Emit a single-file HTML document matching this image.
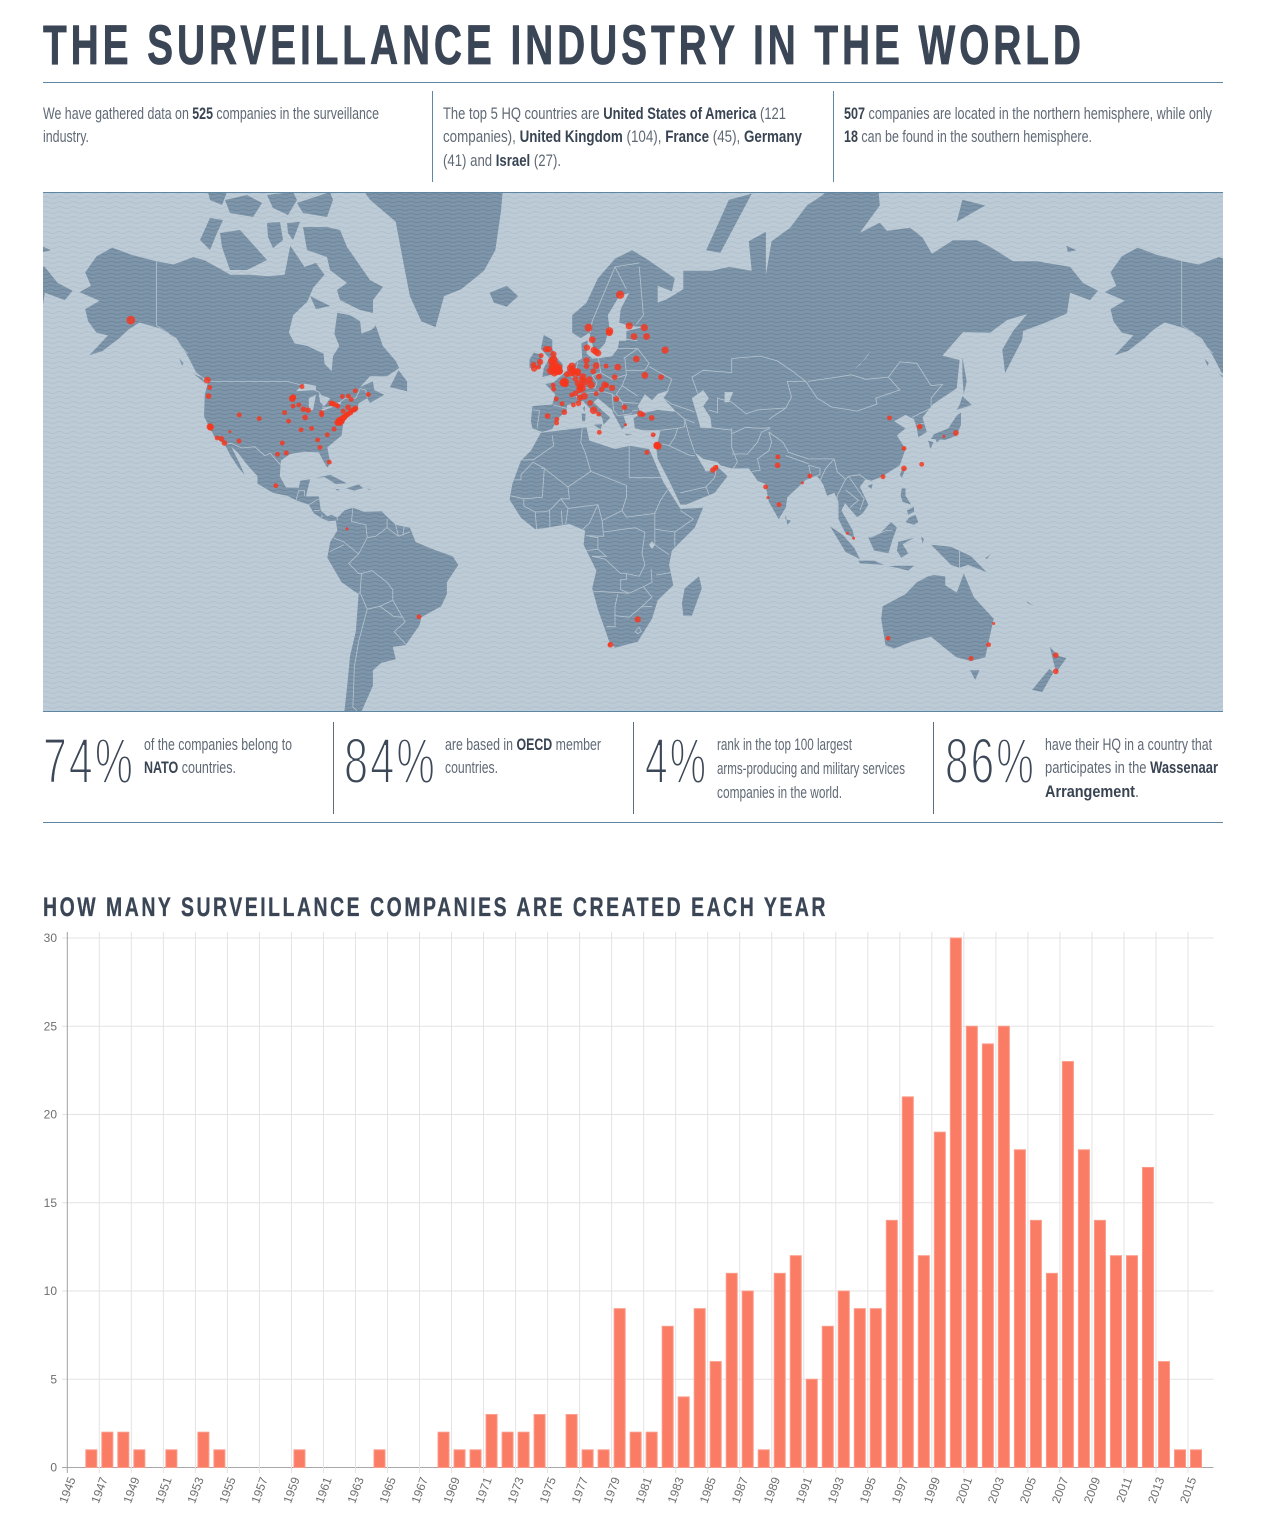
<!DOCTYPE html>
<html lang="en">
<head>
<meta charset="utf-8">
<title>The Surveillance Industry in the World</title>
<style>
html,body{margin:0;padding:0;background:#fff;}
body{width:1265px;height:1528px;position:relative;overflow:hidden;font-family:"Liberation Sans",Arial,sans-serif;color:#525d6c;}
.rule,.vr{position:absolute;background:#5f86a3;}
.ln{position:absolute;white-space:nowrap;font-size:16.5px;line-height:20px;transform-origin:0 50%;color:#5f6975;}
.ln b{color:#394453;font-weight:700;}
.big{position:absolute;white-space:nowrap;font-size:64px;line-height:70px;top:726px;color:#3c4757;transform-origin:0 50%;letter-spacing:.05em;-webkit-text-stroke:1.9px #fff;}
h1,h2{position:absolute;margin:0;white-space:nowrap;color:#3a4555;font-weight:700;transform-origin:0 50%;}
h1{left:43px;top:15px;font-size:56px;line-height:60px;letter-spacing:.1em;-webkit-text-stroke:.7px #3a4555;}
h2{left:43px;top:892px;font-size:26.5px;line-height:30px;letter-spacing:.13em;-webkit-text-stroke:.3px #3a4555;}
svg{position:absolute;display:block;}
</style>
</head>
<body>
<h1 data-fit="1042">THE SURVEILLANCE INDUSTRY IN THE WORLD</h1>
<div class="rule" style="left:43px;top:82px;width:1180px;height:1px"></div>

<div class="ln" data-fit="336" style="left:43px;top:104px">We have gathered data on <b>525</b> companies in the surveillance</div>
<div class="ln" data-fit="46" style="left:43px;top:127px">industry.</div>
<div class="vr" style="left:432px;top:91px;width:1px;height:91px"></div>
<div class="ln" data-fit="343" style="left:443px;top:104px">The top 5 HQ countries are <b>United States of America</b> (121</div>
<div class="ln" data-fit="359" style="left:443px;top:127px">companies), <b>United Kingdom</b> (104), <b>France</b> (45), <b>Germany</b></div>
<div class="ln" data-fit="118" style="left:443px;top:151px">(41) and <b>Israel</b> (27).</div>
<div class="vr" style="left:833px;top:91px;width:1px;height:91px"></div>
<div class="ln" data-fit="368" style="left:844px;top:104px"><b>507</b> companies are located in the northern hemisphere, while only</div>
<div class="ln" data-fit="248" style="left:844px;top:127px"><b>18</b> can be found in the southern hemisphere.</div>

<svg id="map" style="left:43px;top:192px" width="1180" height="520" viewBox="43 192 1180 520" xmlns="http://www.w3.org/2000/svg">
  <defs>
    <pattern id="seaWave" width="14" height="5" patternUnits="userSpaceOnUse">
      <rect width="14" height="5" fill="#bdcbd6"/>
      <path d="M0 2.5 Q3.5 0.5 7 2.5 T14 2.5" fill="none" stroke="#b2c1cd" stroke-width="1"/>
    </pattern>
    <pattern id="landWave" width="12" height="4" patternUnits="userSpaceOnUse">
      <rect width="12" height="4" fill="#7f96aa"/>
      <path d="M0 2 Q3 0.4 6 2 T12 2" fill="none" stroke="#6f879c" stroke-width="1"/>
    </pattern>
  </defs>
  <rect x="43" y="192" width="1180" height="520" fill="url(#seaWave)"/>
  <g id="landLayer"></g>
  <g id="waterLayer"></g>
  <g id="borderLayer"></g>
  <g id="dotLayer"></g>
</svg>
<div class="rule" style="left:43px;top:192px;width:1180px;height:1px"></div>
<div class="rule" style="left:43px;top:711px;width:1180px;height:1px"></div>

<div class="big" data-fit="92" style="left:43px">74%</div>
<div class="ln" data-fit="148" style="left:144px;top:735px">of the companies belong to</div>
<div class="ln" data-fit="92" style="left:144px;top:758px"><b>NATO</b> countries.</div>
<div class="vr" style="left:333px;top:722px;width:1px;height:92px;background:#5d6d7c"></div>
<div class="big" data-fit="93" style="left:344px">84%</div>
<div class="ln" data-fit="156" style="left:445px;top:735px">are based in <b>OECD</b> member</div>
<div class="ln" data-fit="53" style="left:445px;top:758px">countries.</div>
<div class="vr" style="left:633px;top:722px;width:1px;height:92px;background:#5d6d7c"></div>
<div class="big" data-fit="63" style="left:645px">4%</div>
<div class="ln" data-fit="135" style="left:717px;top:735px">rank in the top 100 largest</div>
<div class="ln" data-fit="188" style="left:717px;top:759px">arms-producing and military services</div>
<div class="ln" data-fit="125" style="left:717px;top:783px">companies in the world.</div>
<div class="vr" style="left:933px;top:722px;width:1px;height:92px;background:#5d6d7c"></div>
<div class="big" data-fit="91" style="left:945px">86%</div>
<div class="ln" data-fit="167" style="left:1045px;top:735px">have their HQ in a country that</div>
<div class="ln" data-fit="173" style="left:1045px;top:758px">participates in the <b>Wassenaar</b></div>
<div class="ln" data-fit="94" style="left:1045px;top:782px"><b>Arrangement</b>.</div>
<div class="rule" style="left:43px;top:822px;width:1180px;height:1px"></div>

<h2 data-fit="785">HOW MANY SURVEILLANCE COMPANIES ARE CREATED EACH YEAR</h2>
<svg id="chart" style="left:0;top:925px" width="1265" height="603" viewBox="0 925 1265 603" xmlns="http://www.w3.org/2000/svg"></svg>

<script>
/* ---------- bar chart data ---------- */
const years = [1945,1946,1947,1948,1949,1950,1951,1952,1953,1954,1955,1956,1957,1958,1959,1960,1961,1962,1963,1964,1965,1966,1967,1968,1969,1970,1971,1972,1973,1974,1975,1976,1977,1978,1979,1980,1981,1982,1983,1984,1985,1986,1987,1988,1989,1990,1991,1992,1993,1994,1995,1996,1997,1998,1999,2000,2001,2002,2003,2004,2005,2006,2007,2008,2009,2010,2011,2012,2013,2014,2015];
const companiesCreated = [0,1,2,2,1,0,1,0,2,1,0,0,0,0,1,0,0,0,0,1,0,0,0,2,1,1,3,2,2,3,0,3,1,1,9,2,2,8,4,9,6,11,10,1,11,12,5,8,10,9,9,14,21,12,19,30,25,24,25,18,14,11,23,18,14,12,12,17,6,1,1];
const yTicks = [0,5,10,15,20,25,30];

/* ---------- map data: longitude / latitude ---------- */
const landPolygons = [
 [[-168,65.6],[-164,66.5],[-166,68.3],[-162,70.3],[-156.5,71.3],[-150,70.5],[-141,69.7],[-135,69.3],[-128,70.2],[-124,69.8],[-115,68],[-108,68],[-102,67.8],[-96,68],[-94,71.5],[-89,69],[-85,69.5],[-82,68],[-86,66.2],[-88,64.2],[-93,62],[-94.5,59],[-92.5,57],[-88,56.5],[-82.3,55],[-82,52.9],[-79.5,51.3],[-79,54.5],[-76.8,56.5],[-78.5,58.8],[-77.5,62.4],[-73,62],[-69.5,61],[-69,58.8],[-65.5,59.5],[-64,60.3],[-61.5,56.5],[-57,53.5],[-55.8,52],[-60,50.2],[-66,50.2],[-69.5,47.7],[-65,49],[-64.5,47],[-61,45.8],[-66,43.8],[-67,45],[-70,43.7],[-70.5,41.7],[-74,40.5],[-75.5,38],[-76,35],[-81,31.5],[-80,26.8],[-81,25.2],[-82.8,28],[-84,30],[-89,30.2],[-94,29.5],[-97.3,27.5],[-97.7,22.5],[-95.5,18.8],[-91,18.7],[-90.5,21],[-87,21.5],[-88,18],[-88.5,15.8],[-84,15.8],[-83.3,11],[-81,9],[-79.5,9.5],[-77.5,8.5],[-78,7.5],[-80.5,7.3],[-83,8.3],[-85.7,10],[-87.5,13],[-92,14.5],[-95,16],[-100,17],[-105.5,20],[-105.5,22.5],[-109,26],[-112.5,30],[-114.7,31.7],[-112,27],[-110,23],[-112,25],[-115,29],[-117.1,32.5],[-120.5,34.5],[-122.5,37.5],[-124.3,40.3],[-124,46],[-122.8,49],[-127,51],[-130,54.5],[-134,58],[-140,59.8],[-147,60.8],[-151,59.5],[-154,58],[-160,55.5],[-164.5,54.7],[-158,58.5],[-162,59],[-165,61],[-166,63],[-161,64.3]],
 [[-73,78.2],[-68,80.5],[-60,82],[-40,83.5],[-22,82.5],[-18,80],[-20,75],[-22,71],[-26,68.5],[-34,66],[-40,65],[-43,60],[-48,61],[-52,65],[-54,69],[-57,74],[-66,76]],
 [[-87,65],[-80,63.5],[-85,63]],
 [[-59,47.7],[-53,46.7],[-53,49],[-56,51.5]],
 [[-128,50.7],[-123.5,48.4],[-125,49.9]],
 [[-133,54],[-131.5,53],[-132,52.5]],
 [[-85,22],[-80,23],[-74.2,20.2],[-78,19.9],[-82,22.2]],
 [[-74.4,18.5],[-70,19.8],[-68.4,18.6],[-71.5,17.8]],
 [[-78.3,18.4],[-76.3,18],[-77.5,17.8]],
 [[-67.2,18.4],[-65.7,18.3],[-66.2,18]],
 [[-77.5,8.5],[-75,11],[-72,12],[-68,10.5],[-62,10.7],[-57,6],[-52,5],[-50,0],[-44,-2.5],[-37,-5],[-35,-8],[-39,-14],[-39,-18],[-41,-22],[-48,-25.5],[-48.6,-28],[-53.5,-34],[-58,-34.5],[-57,-38],[-62,-39],[-65,-41],[-65,-45],[-69,-51],[-69,-55],[-75,-55],[-75,-51],[-74,-45],[-73,-37],[-71,-30],[-70,-18],[-76,-14],[-81,-5.5],[-80,0],[-77.5,4],[-78,7.5]],
 [[-6,35.8],[10,37.3],[11,33.5],[20,31],[25,32],[32,31],[33.5,28],[37,20.5],[43,11.5],[51,12],[48,5],[40,-3],[39,-8],[40.5,-15],[35,-20],[33,-26],[28,-33],[20,-34.8],[18,-33],[14,-23],[12,-16],[13.5,-10],[9,-1],[9.5,4],[4,6.3],[-4,5],[-8,4.5],[-13,8.5],[-17,14.7],[-16,20],[-13,27.5],[-9.5,30.5]],
 [[49.5,-12],[50.5,-16],[47,-25],[44,-25],[43.5,-21],[44.5,-16]],
 [[-9,37],[-9.5,39],[-9,43],[-2,43.4],[-1,46],[-4.5,48.4],[-1.5,48.8],[1.5,50.5],[4,52],[7,53.5],[8.5,54],[8.2,57],[10.5,57.6],[10,55],[12,54],[14,54],[19,54.5],[21,56],[21.5,57.5],[24,57.5],[24,59.3],[30,60],[25,60.2],[21.5,60.8],[22,63],[25,65.5],[21.5,65],[17.5,62],[18,60],[16.5,57],[14,55.5],[12.5,56],[11,59],[8,58],[5,59],[5,62],[10,64],[14,67.5],[20,70],[26,71],[31,70],[41,67.5],[40,65.7],[35,66.5],[35,64],[38,64.5],[44,66],[44,68.5],[54,68.5],[60,69],[68,68.5],[67,72],[73,73],[73,68],[75,72],[81.5,73.4],[87.4,75.5],[93,76.4],[100,78],[112,78],[113,75.5],[106,72.9],[113,73.9],[115.5,73.1],[123.6,73.4],[128,72.4],[131.3,70.6],[138.7,72.1],[147,72.1],[151.7,71.4],[159.8,69.7],[168,69.7],[179.8,69],[184.3,66.9],[189.6,65.8],[186.8,64.4],[179.8,65.5],[178.7,62.3],[170.3,60.6],[163.3,59.3],[163,57.7],[157,50.9],[156,55.8],[159.8,59.3],[164.7,62.2],[157.7,61.2],[151.7,59],[142.2,59.1],[135,54.6],[141,53.7],[140,47.4],[131.7,43.5],[128,40],[129.5,36],[126.5,34.5],[126,37],[125,39.5],[122,40.7],[118,39],[122,37],[119,35],[122,31],[120,26],[114,22.5],[110,21],[108,21.5],[106,19],[109,13],[107,10],[105,8.7],[103,11],[100.8,13.5],[99.5,11],[103.5,4],[104,1.3],[101,3],[98.5,8],[98.5,14],[97,17],[94.5,16],[93,20],[91,22.5],[87,21.3],[80.5,15.5],[80,12],[77.5,8],[74,14],[72.8,20],[70,21],[69,22.5],[67,25],[61,25],[57,26],[56,27],[51,28],[48,30],[51,25.5],[52,24],[56,25.5],[59.5,22.5],[55,17],[45,13],[43,13],[39,21],[35,28],[34.5,31.3],[36,36.5],[30,36.5],[27,37],[26.5,39.8],[29,41],[35,42],[41.5,41.5],[37,45],[39,47],[35,46],[33,44.5],[30.5,46],[28,43],[29,41.2],[26,40.7],[23,40.5],[24,38],[22.5,36.7],[19.5,41],[19,42],[14,45],[12.5,44],[16,41.5],[18.4,40],[16,38],[15.5,40],[11,42.5],[8.8,44.3],[3.2,43.2],[3,41.8],[-0.3,39.5],[-2,36.8],[-5.5,36]],
 [[-5.5,50],[1.5,51.2],[1.7,52.8],[-1,54.5],[-2,56],[-2,57.7],[-5,58.6],[-6,56],[-3,54],[-5,52]],
 [[-10,52],[-6,52],[-5.7,54.8],[-8.5,55.2],[-10,53.8]],
 [[-24,65.5],[-18,66.5],[-14,65],[-18,63.4],[-22.5,64]],
 [[52,71],[57,70.7],[68,76.5],[60,76],[55,73]],
 [[12.5,38],[15.5,38.2],[15,36.7]],
 [[8.3,41],[9.7,41],[9.5,39],[8.5,39]],
 [[8.7,42.5],[9.5,43],[9.3,41.5]],
 [[23.5,35.5],[26.3,35.2],[24,35]],
 [[32.5,35],[34.5,35.6],[33.8,34.7]],
 [[131,34],[136,33.7],[140,35],[141.5,38],[141.5,41.3],[140,40.5],[137,37],[132,35.3]],
 [[130,33.5],[131.8,33],[130.8,31]],
 [[132.5,34],[134.5,34],[133,33]],
 [[140,42],[145.3,43.3],[142,45.5],[141,43.3]],
 [[142,54.3],[143.5,49],[142.5,46],[142,50]],
 [[120,23],[121,25],[122,25],[120.8,22]],
 [[108.7,19.3],[110.5,20],[110,18.3]],
 [[79.8,8],[81.8,7.5],[80.5,6],[80,9.5]],
 [[120.3,16],[120.7,18.5],[122,18.5],[122,16],[124,13],[121,14]],
 [[122,7],[123.5,8.7],[125.5,9.5],[126.5,7],[125,6]],
 [[122.5,11],[125,12.3],[125,10.5],[123,9.5]],
 [[109,1.5],[113,3],[117,7],[119,5],[117.5,1],[116,-4],[111,-3]],
 [[95.5,5.5],[100,2.5],[104,-2],[106,-6],[101,-3.5]],
 [[105.5,-6.5],[111,-6.5],[114.5,-8],[106,-7.5]],
 [[119.5,0],[125,1.5],[121,-0.8],[123,-4],[120.5,-5.5],[119,-3]],
 [[116,-8.5],[119,-8.3],[125,-8.3],[123,-10],[119,-9]],
 [[127.5,2],[128.5,1],[128,-0.5]],
 [[131,-1],[138,-1.7],[145,-5],[150.5,-10.5],[144,-8],[141,-9],[138,-8],[134,-4]],
 [[150,-5.7],[152,-4.3],[150.5,-6]],
 [[114,-22],[122,-18],[126,-14],[130,-12],[132,-11.5],[136,-12],[136,-15],[140,-17.5],[142.5,-11],[146,-19],[153,-26],[150,-37.5],[145,-38.5],[140,-37.5],[136,-35],[131,-31.5],[124,-33],[118,-35],[115,-34],[113.5,-26]],
 [[144.7,-41],[148,-41],[146.5,-43.5]],
 [[172.7,-34.5],[175.5,-37],[178.5,-37.7],[175,-41.5],[174,-39]],
 [[172.5,-40.7],[174,-41.5],[170,-46.5],[166.5,-46],[171,-42]],
 [[142,76],[150,75.5],[140,74]],
 [[178.5,71.5],[182,71],[179,70.8]],
 [[165,-21],[167,-22],[164.5,-20.3]]
];
/* Canadian Arctic islands, traced directly in map pixels */
const arcticIslands = [
 [[200,240],[210,218],[223,220],[217,233],[210,250]],
 [[220,233],[240,230],[267,260],[247,270],[230,270],[222,247]],
 [[208,192],[227,192],[222,205],[210,200]],
 [[225,200],[247,195],[262,203],[253,217],[230,213]],
 [[267,195],[293,192],[297,200],[288,215],[273,208]],
 [[297,203],[330,192],[333,200],[327,217],[303,213]],
 [[267,223],[280,222],[283,240],[273,248],[268,237]],
 [[287,223],[300,222],[293,240],[288,233]],
 [[303,227],[327,227],[340,230],[347,247],[370,280],[383,287],[373,300],[373,313],[360,310],[340,300],[337,290],[347,283],[330,270],[327,257],[307,250]]
];
const inlandWater = [
 [[47,45],[51,47],[53,45],[51,43],[53.5,40],[54,37],[50,37.2],[49,40]],
 [[58.5,46.5],[61.5,46.5],[60,44],[58.5,44]],
 [[104,51.7],[106,52.7],[110,55.7],[108,54]],
 [[33,0.3],[34,-1],[33,-2.5],[32,-1]],
 [[-92,46.7],[-85,47],[-85,48],[-89,48.5]],
 [[-87.5,41.8],[-86,42],[-85,45.8],[-87.5,45]],
 [[-84,46],[-80,45],[-82,43],[-83.5,44]],
 [[-83,41.7],[-79,42.8],[-79,43],[-83,42.2]],
 [[-79.5,43.3],[-76.3,43.5],[-76.3,44],[-79.5,43.8]]
];
const borderLines = [
 [[-123,49],[-95,49],[-89,48],[-84,46.5],[-82.5,45],[-82.5,42.5],[-79,43],[-76,44.3],[-74.7,45],[-71,45],[-69.5,47.3],[-67.5,47],[-67,45]],
 [[-141,69.7],[-141,60.3],[-137,59],[-130,55]],
 [[-117,32.5],[-114.7,32.7],[-111,31.3],[-106.5,31.7],[-103,29],[-101,29.7],[-97.3,26]],
 [[-92,14.5],[-91,17.8],[-89,17.9],[-89,15.9]],[[-87.5,13],[-84,15]],[[-85.7,11],[-83.7,11]],[[-83,8.5],[-82.8,9.6]],[[-77.5,8.5],[-77.5,7.5]],
 [[-72,12],[-72.5,7.2],[-67.5,6],[-67,1.5]],[[-67,1.5],[-70,-4.2]],[[-78.8,1.4],[-75.2,0],[-70,-4.2]],[[-80.2,-3.4],[-75.2,-1]],
 [[-70,-4.2],[-73.5,-7.5],[-70,-11],[-69,-11],[-65.3,-10],[-60,-14],[-58,-16.5],[-58,-20],[-54.6,-25.5],[-53.7,-27],[-57.5,-30],[-53.5,-33.7]],
 [[-67,1.5],[-64,2],[-60,5],[-56,2],[-52,3.5]],[[-60,8],[-60,5]],[[-57,6],[-56,2]],[[-54,5.5],[-54.5,2.3]],
 [[-69,-11],[-69.5,-17.5],[-70.3,-18.3]],[[-69.5,-17.5],[-67,-23],[-70,-33],[-71.5,-40],[-72,-50],[-69,-52]],
 [[-67,-23],[-62.5,-22],[-58,-20]],[[-62.5,-22],[-57.7,-25.3],[-54.6,-25.5]],
 [[-2,35],[-1.5,32],[-8.7,27.7],[-13,27.7]],[[8.5,37],[8,33],[9.5,30]],[[9.5,30],[11.5,24]],[[25,32],[25,22]],[[25,22],[36.5,22]],
 [[11.5,24],[14.5,23],[24,19.5],[24,15.5],[22.5,11],[24,8.7]],[[11.5,24],[3.5,19],[4,15],[1,15],[3.5,11.7]],
 [[-17,21.3],[-13,21.3],[-13,23],[-8.7,27]],[[-6,25],[-4.8,25],[-5.5,15.5],[-12,15],[-16.5,16]],[[-8.7,27],[-4.8,25],[3.5,19]],
 [[-12,15],[-12,12.5],[-8,10.5],[-5,10.5],[-3,11],[1,15]],[[3.5,11.7],[14,13]],[[3.5,11.7],[2.7,6.3]],[[1.2,11],[1.5,6]],[[-3,11],[-2.8,5]],[[-8,10.5],[-7.5,4.5]],
 [[14,13],[11,6.5],[8.7,4.5]],[[14,13],[15.5,7.5],[22.5,11]],[[15.5,7.5],[16,2],[9.8,2.2]],[[11,2],[14,1.5],[14,-2.5],[10,-3]],
 [[16,3.5],[27,5],[30.5,3.5]],[[24,8.7],[34,10],[36,14.5],[38.5,18]],[[34,10],[34,4.5],[41,3.5],[47.5,8],[43,11]],[[41,3.5],[41,-1.5]],
 [[34,4.5],[34,-1],[39,-4.5]],[[30.5,3.5],[29.5,-4],[30.5,-8],[28.5,-12]],[[34.5,-11.5],[40.5,-10.5]],
 [[12,-5],[16.5,-6],[22,-11],[24,-11],[24,-13],[22,-13],[22,-16.5],[25,-17.7],[12,-17]],[[21,-18],[20,-22],[20,-28.5],[17,-28.5]],
 [[20,-25],[25,-25.5],[29.3,-22.2],[33,-22]],[[25,-17.7],[30,-15.5],[33,-14],[32.7,-9.4]],[[29.3,-22.2],[33,-19],[30,-15.5]],
 [[27,-30],[28.5,-28.7],[29.3,-30],[28,-30.6],[27,-30]],[[14,-2.5],[17,-5],[12,-5]],[[28.5,-12],[24,-11]],
 [[44.5,39.5],[46,35],[48,30]],[[36,36.5],[42,37],[44.5,37.5],[44.5,39.5]],[[42,37],[41,34.5],[39,32],[36.5,32.5]],[[39,32],[46.5,29],[48,29]],
 [[43,17],[52,19],[55,22],[55.5,24.2],[51.5,24.2]],[[52,19],[53,16.5]],[[61,37],[61,31.5],[63,27],[61.5,25]],[[61,29.5],[66.5,29.5],[70,33],[71.5,36],[74.5,37]],
 [[61,35.5],[66,37.3],[71,37],[74.5,37.2]],[[54,37.2],[61,36.5]],
 [[47,50],[51,51.5],[61,51],[61,54],[71,54.5],[77,53.5],[83,51],[87,49]],[[53,42],[56,41.3],[56,45],[61,44],[66,41],[70,42],[80,42.5],[82,45.3],[80.5,49],[87,49]],
 [[87,49],[91,45],[96,42.8],[105,41.7],[112,43.5],[111.5,45],[120,47],[116,50]],[[87.7,49],[98,50],[103,50.5],[108,49.5],[116,50]],
 [[116,50],[120,53.3],[126,53],[131,48],[135,48.3],[131,45],[131,42.8]],[[124.3,40],[131,42.5]],[[126,38],[128.5,38.5]],[[74,39.5],[80,42.5]],
 [[74,36],[79,33],[81,30],[88,28],[92,28],[97,28]],[[97,28],[98,24],[101,21.5],[102,22.5],[106,23],[108,21.5]],
 [[68,24],[71,24.5],[70,28],[74,30.5],[75,33],[74,36]],[[80,29],[88,26.5]],[[88,26],[89,22],[92,23],[92,25],[88,26]],[[92,21],[94,25],[97,28]],
 [[98,16],[101,21.5]],[[98,10.5],[98,16]],[[101,18],[105.5,14.5],[102.5,12]],[[102,22.5],[107.5,15],[106,11]],
 [[-1.7,43.3],[3,42.4]],[[-9,42],[-6.5,41.8],[-7.3,37.2]],[[2.5,51],[6,49.5],[8,49],[7.5,47.5],[6,46],[7.5,44]],[[7,53.3],[6,51],[6,49.5]],
 [[14.2,54],[15,51],[19,49.5],[24,50.5]],[[15,51],[12,50.3],[13.7,48.7],[13,47.5],[7.5,47.5]],[[7,46],[13.7,46.5]],[[13.7,46.5],[16.5,46.5],[19,46],[22.5,44],[28,43.7]],
 [[23.5,54],[24,50.5],[22.5,48],[28,45.5]],[[21,56],[28,56],[23,54]],[[24,57.8],[28,57.5]],[[28,56],[32,53],[30.5,51.5],[24,51.5]],[[32,52.3],[40,49.5],[38.5,47]],
 [[28.5,69],[30,62],[27.5,60.5]],[[20,69],[12,61],[11.3,59]],[[24,66],[20,69],[28.5,69.5]],[[19,46],[19.5,42],[21,40.5],[26,41]],[[22.5,44],[23,41.3]],[[26,41.7],[28,42]],
 [[22.5,48],[20.5,46],[22.5,44]],[[37,45],[40,43.5],[48,41.5]],[[41.5,41.5],[44.5,39.5]],[[48,38.5],[44.5,39.5]],[[47,50],[49,46.2]],
 [[141,-2.6],[141,-9]],[[109.5,1.5],[115,4],[117.5,4.2]]
];
/* [longitude, latitude, companies at the site] */
const hqSites = [
 [-150,61.2,9],[-123.1,49.3,4],[-122.3,47.6,1],[-122.7,45.5,2],[-122.2,37.5,4],[-122,37.3,4],[-118.2,34,2],[-117.1,32.8,2],[-119.7,34.3,1],[-115.2,36.1,0],
 [-111.9,40.7,1],[-104.9,39.7,1],[-112,33.4,1],[-96,41.3,1],[-94.6,39,1],[-96.8,32.8,1],[-95.4,29.8,1],[-98.5,29.4,1],[-99.1,19.4,1],
 [-93.3,44.9,4],[-93,45.2,3],[-89.9,47.8,1],[-87.7,41.9,2],[-89.4,42.2,2],[-91,43.3,1],[-93,43,1],[-88.8,40,2],[-86.5,37,1],[-90.2,36.6,1],
 [-84.4,33.7,1],[-83.6,31.5,1],[-80.3,27,1],[-81,35.2,1],[-78.6,36.8,1],[-83,41.3,1],[-83,40.7,1],
 [-79.6,43.7,2],[-79,43.6,2],[-78,43.3,1],[-77.3,43,1],[-75.5,41.7,1],[-77,38.9,5],[-76.6,39.3,4],[-75.2,40,3],[-74.2,40.7,2],[-73.8,40.9,2],[-75.7,39.7,3],[-77.3,38.6,4],[-71.1,42.4,2],[-73.7,42.7,2],[-75.7,45.4,1],[-73.6,45.5,1],[-71.2,46.8,1],[-72.6,44.7,1],[-72.5,41.8,1],[-66.6,45.9,1],
 [-76,39,3],[-74.8,40.3,2],[-76.5,38.5,2],[-72.9,41.3,2],[-71.6,42.1,2],
 [-0.1,51.5,12],[-0.9,51.5,8],[-1.6,51.7,8],[-0.6,52,7],[0.1,52.2,6],[-1.9,52.5,7],[-1.2,52.9,6],[-2.2,53.5,6],[-1.5,53.8,6],[-1.6,54.9,3],[-2.6,51.4,6],[-1.3,50.9,5],[0.5,51.3,5],
 [-3.2,55.9,3],[-4.2,55.9,3],[-5.9,54.6,1],[-6.3,53.3,3],[-8.4,51.9,3],[-8.6,52.7,2],[-6.9,52.2,1],
 [2.3,48.9,9],[1.9,48.7,7],[2.6,48.4,4],[-1.5,47.2,1],[1.4,43.6,1],[-0.6,44.8,1],[4.8,45.8,1],[5.4,43.3,1],[7.2,43.7,2],[6.1,46.2,2],[3.1,50.6,2],[-1.7,48.1,1],
 [4.9,52.4,5],[4.3,52,4],[5.5,51.4,3],[4.4,50.9,5],[6.1,49.6,2],[6.8,51.2,5],[6.9,50.9,3],[8.7,50.1,4],[8.5,49.4,3],[9.2,48.8,5],[10,53.6,3],[10,52.4,2],[13.4,52.5,4],[11.6,48.2,6],[11,49.4,4],[12.4,51.3,2],
 [8.5,47.4,5],[7.5,47,3],[7.6,47.6,3],[9.2,45.5,5],[7.7,45.1,3],[11.3,43.8,2],[12.5,41.9,6],[14.3,40.9,1],[14.5,35.9,1],[13.4,46.1,1],[16.4,48.2,4],[14.4,50.1,2],[15.3,47.1,2],[19,47.5,3],[21,52.2,4],[19.9,50,2],[16.9,52.4,1],
 [21.8,65.2,8],[18.1,59.3,6],[18,59,4],[10.7,59.9,7],[25,60.2,5],[30.3,59.9,5],[26.7,58.3,4],[31.1,58.3,4],[12.6,55.7,4],[13.3,55.4,4],[14,55.1,4],[12,57.7,4],[10.2,56.2,3],
 [37.6,55.7,5],[27.5,53.9,4],[30.5,50.4,4],[36.2,50,2],[17.1,48.1,1],[20.5,44.8,2],[23.3,42.7,2],[28.9,41,3],[29.8,40.8,1],[32.9,39.9,2],[23.7,38,0],
 [-3.7,40.4,2],[-0.4,39.5,1],[-0.5,38.5,1],[2.2,41.4,2],[5.5,51,5],[7,48.6,3],[8,47.9,4],[33.4,35.2,1],[34.8,32.1,6],[34.9,32,5],[35.2,31.8,4],[31.2,30,1],[55.3,25.2,2],[54.4,24.5,2],[55.7,25.6,0],
 [77.2,28.6,1],[77.1,26,2],[72.9,19,1],[73.7,15.4,0],[77.6,13,1],[88.4,22.6,1],[85.8,20.3,0],[116.4,39.9,1],[127,37.5,2],[139.7,35.7,2],[135.5,34.7,0],[121.5,31.2,1],[121.5,25,2],[127.7,26.3,1],[114.1,22.3,1],
 [103.8,1.3,0],[101.7,3.1,0],[115.9,-32,1],[145,-37.8,1],[151.2,-33.9,1],[153,-27.5,0],[174.8,-36.9,2],[174.8,-41.3,2],[-48.8,-25.4,1],[-74.1,4.6,0],[18.4,-33.9,2],[18,-33.9,0],[28,-26.2,3]
];

/* ---------- map projection (Mercator) ---------- */
const SVGNS = 'http://www.w3.org/2000/svg';
function lonX(lon){return 558 + 2.848*lon;}
function latY(lat){return 542 - 163.2*Math.log(Math.tan(Math.PI/4 + lat*Math.PI/360));}
function ptsOf(line,offset){return line.map(function(p){return lonX(p[0]+offset).toFixed(1)+','+latY(p[1]).toFixed(1);}).join(' ');}
function radiusOf(count){return 1.5+0.95*Math.sqrt(count);}

const landLayer = document.getElementById('landLayer');
const waterLayer = document.getElementById('waterLayer');
const borderLayer = document.getElementById('borderLayer');
const dotLayer = document.getElementById('dotLayer');

[0,360,-360].forEach(function(off){
  landPolygons.forEach(function(poly){
    const el = document.createElementNS(SVGNS,'polygon');
    
    
    el.setAttribute('points', ptsOf(poly,off));
    el.setAttribute('fill', 'url(#landWave)');
    landLayer.appendChild(el);
  });
});
arcticIslands.forEach(function(poly){
  const el = document.createElementNS(SVGNS,'polygon');
  
  
  el.setAttribute('points', poly.map(function(p){return p.join(',');}).join(' '));
  el.setAttribute('fill', 'url(#landWave)');
  landLayer.appendChild(el);
});
inlandWater.forEach(function(poly){
  const el = document.createElementNS(SVGNS,'polygon');
  
  
  el.setAttribute('points', ptsOf(poly,0));
  el.setAttribute('fill', 'url(#seaWave)');
  waterLayer.appendChild(el);
});
[0,360].forEach(function(off){
  borderLines.forEach(function(line){
    if(off!==0 && line[0][0]>-100) return;
    const el = document.createElementNS(SVGNS,'polyline');
    
    
    el.setAttribute('points', ptsOf(line,off));
    el.setAttribute('fill', 'none');
    el.setAttribute('stroke', '#b5c4d0');
    el.setAttribute('stroke-width', '0.8');
    borderLayer.appendChild(el);
  });
});
hqSites.forEach(function(site){
  const el = document.createElementNS(SVGNS,'circle');
  
  
  el.setAttribute('cx', lonX(site[0]).toFixed(1));
  el.setAttribute('cy', latY(site[1]).toFixed(1));
  el.setAttribute('r', radiusOf(site[2]).toFixed(2));
  el.setAttribute('fill', '#f7361c');
  el.setAttribute('fill-opacity', '0.82');
  dotLayer.appendChild(el);
});

/* ---------- chart axes ---------- */
const chart = document.getElementById('chart');
function bandX(i){return 67.3 + 16.01*i;}
function valueY(v){return 1467.5 - v*(529.5/30);}

yTicks.forEach(function(v){
  const g = document.createElementNS(SVGNS,'line');
  
  
  g.setAttribute('x1', 62);
  g.setAttribute('x2', 1213.5);
  g.setAttribute('y1', valueY(v));
  g.setAttribute('y2', valueY(v));
  g.setAttribute('stroke', v===0 ? '#a8a8a8' : '#e3e3e3');
  g.setAttribute('stroke-width', '1');
  chart.appendChild(g);
  const t = document.createElementNS(SVGNS,'text');
  
  
  t.setAttribute('x', 57);
  t.setAttribute('y', valueY(v)+4);
  t.setAttribute('text-anchor', 'end');
  t.setAttribute('font-size', '12');
  t.setAttribute('font-family', '"Liberation Sans",Arial,sans-serif');
  t.setAttribute('fill', '#6e6e6e');
  t.textContent = v;
  chart.appendChild(t);
});
years.forEach(function(y,i){
  if(i%2!==0) return;
  const g = document.createElementNS(SVGNS,'line');
  
  
  g.setAttribute('x1', bandX(i));
  g.setAttribute('x2', bandX(i));
  g.setAttribute('y1', 932);
  g.setAttribute('y2', 1473);
  g.setAttribute('stroke', i===0 ? '#a0a0a0' : '#e3e3e3');
  g.setAttribute('stroke-width', '1');
  chart.appendChild(g);
  const t = document.createElementNS(SVGNS,'text');
  
  
  t.setAttribute('text-anchor', 'end');
  t.setAttribute('font-size', '12');
  t.setAttribute('font-family', '"Liberation Sans",Arial,sans-serif');
  t.setAttribute('fill', '#6e6e6e');
  t.setAttribute('transform', 'translate('+(bandX(i)+8.5)+',1479) rotate(-70)');
  t.textContent = y;
  chart.appendChild(t);
});
companiesCreated.forEach(function(v,i){
  if(v<=0) return;
  const r = document.createElementNS(SVGNS,'rect');
  
  
  r.setAttribute('x', bandX(i)+2.5);
  r.setAttribute('width', 11);
  r.setAttribute('y', valueY(v));
  r.setAttribute('height', valueY(0)-valueY(v));
  r.setAttribute('fill', '#fa7c65');
  r.setAttribute('stroke', '#fc9a89');
  r.setAttribute('stroke-width', '1');
  chart.appendChild(r);
});

/* ---------- fit text lines to measured widths ---------- */
document.querySelectorAll('[data-fit]').forEach(function(el){
  const w = el.getBoundingClientRect().width;
  el.style.transform = 'scaleX(' + (parseFloat(el.getAttribute('data-fit'))/w).toFixed(4) + ')';
});
</script>
</body>
</html>
